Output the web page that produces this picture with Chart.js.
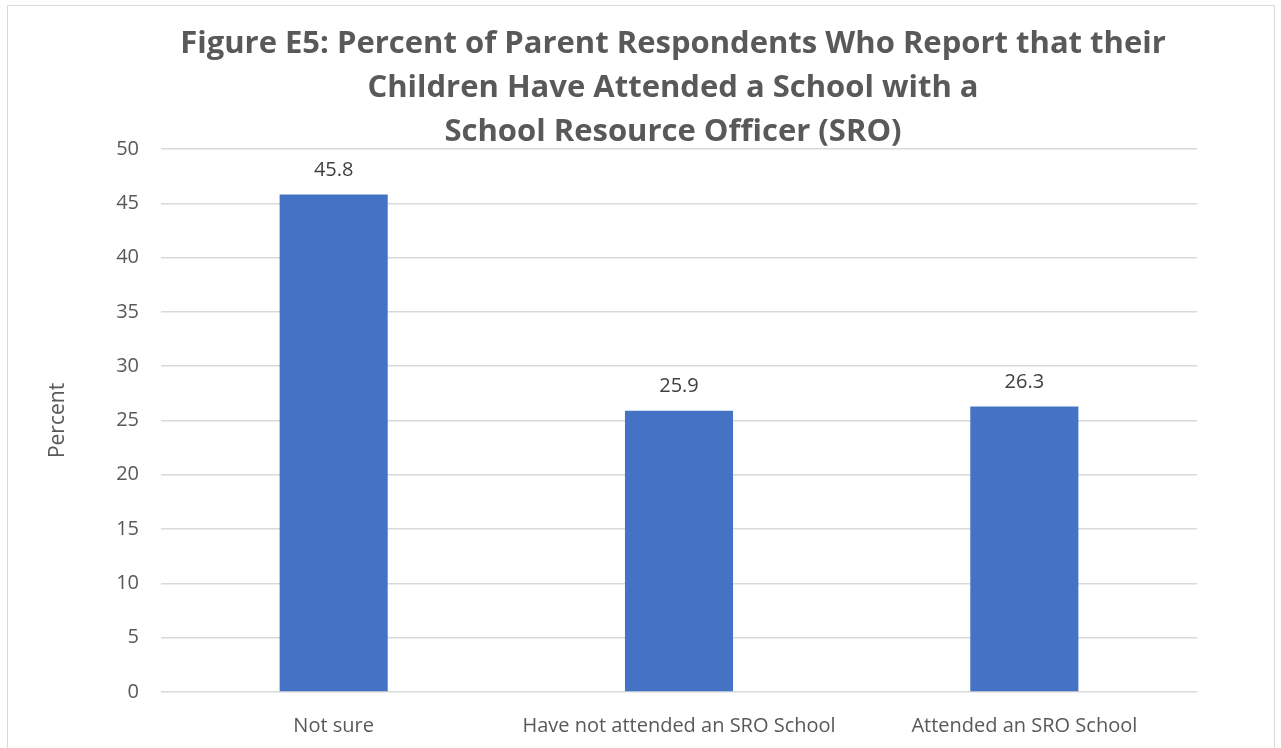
<!DOCTYPE html>
<html>
<head>
<meta charset="utf-8">
<script src="https://cdn.jsdelivr.net/npm/chart.js@4"></script>
<style>
  html, body { margin: 0; padding: 0; background: #fff; overflow: hidden; }
  #wrap { position: relative; width: 1281px; height: 748px; }
  #frame { position: absolute; left: 7px; top: 5px; width: 1266px; height: 800px; border: 1px solid #d9d9d9; }
  #myChart { position: absolute; left: 0; top: 0; }
</style>
</head>
<body>
<div id="wrap">
  <div id="frame"></div>
  <canvas id="myChart" width="1281" height="748"></canvas>
</div>
<script>
const categories = ["Not sure", "Have not attended an SRO School", "Attended an SRO School"];
const percents = [45.8, 25.9, 26.3];
const titleLines = [
  "Figure E5: Percent of Parent Respondents Who Report that their",
  "Children Have Attended a School with a",
  "School Resource Officer (SRO)",
];

const fontName = "'Open Sans', sans-serif";
const gray = "#595959";

// numbers above each bar
const barLabels = {
  id: "barLabels",
  afterDatasetsDraw(chart) {
    const ctx = chart.ctx;
    const meta = chart.getDatasetMeta(0);
    ctx.save();
    ctx.font = "20px " + fontName;
    ctx.fillStyle = "#404040";
    ctx.textAlign = "center";
    ctx.textBaseline = "middle";
    meta.data.forEach((bar, i) => {
      ctx.fillText(percents[i].toFixed(1), bar.x, bar.y - 24);
    });
    ctx.restore();
  },
};

// the left padding centres the title over the plot; stretch the y axis
// box back to the canvas edge so its labels are not clipped
const yAxisToEdge = {
  id: "yAxisToEdge",
  afterLayout(chart) {
    const y = chart.scales.y;
    y.left = 0;
    y.width = y.right;
  },
};

const makeGraph = () => {
  const chart_ctx = document.getElementById("myChart");
  const data = {
    labels: categories,
    datasets: [
      {
        label: "Percent",
        backgroundColor: "#4472C4",
        borderWidth: 0,
        data: percents,
        categoryPercentage: 1,
        barPercentage: 0.313,
      },
    ],
  };
  const config = {
    type: "bar",
    data,
    plugins: [barLabels, yAxisToEdge],
    options: {
      responsive: false,
      animation: false,
      layout: { padding: { left: 149, right: 84, top: 0, bottom: 0 } },
      plugins: {
        legend: { display: false },
        tooltip: { enabled: false },
        title: {
          display: true,
          text: titleLines,
          color: gray,
          font: { family: fontName, size: 31, weight: "bold", lineHeight: 1.43 },
          padding: { top: 21.7, bottom: -5.7 },
        },
      },
      scales: {
        x: {
          grid: { display: false, drawTicks: false },
          border: { display: false },
          ticks: {
            color: gray,
            padding: 22,
            maxRotation: 0,
            autoSkip: false,
            font: { family: fontName, size: 20 },
          },
          afterFit: (s) => { s.height = 56; },
        },
        y: {
          min: 0,
          max: 50,
          ticks: {
            stepSize: 5,
            color: gray,
            padding: 22,
            font: { family: fontName, size: 20 },
          },
          grid: { color: "#d9d9d9", lineWidth: 1.5, drawTicks: false },
          border: { display: false },
          title: {
            display: true,
            text: "Percent",
            color: gray,
            font: { family: fontName, size: 21 },
            padding: { top: 45, bottom: 0 },
          },
          afterFit: (s) => { s.width = 12; },
        },
      },
    },
  };
  return new Chart(chart_ctx, config);
};

makeGraph();
</script>
</body>
</html>
